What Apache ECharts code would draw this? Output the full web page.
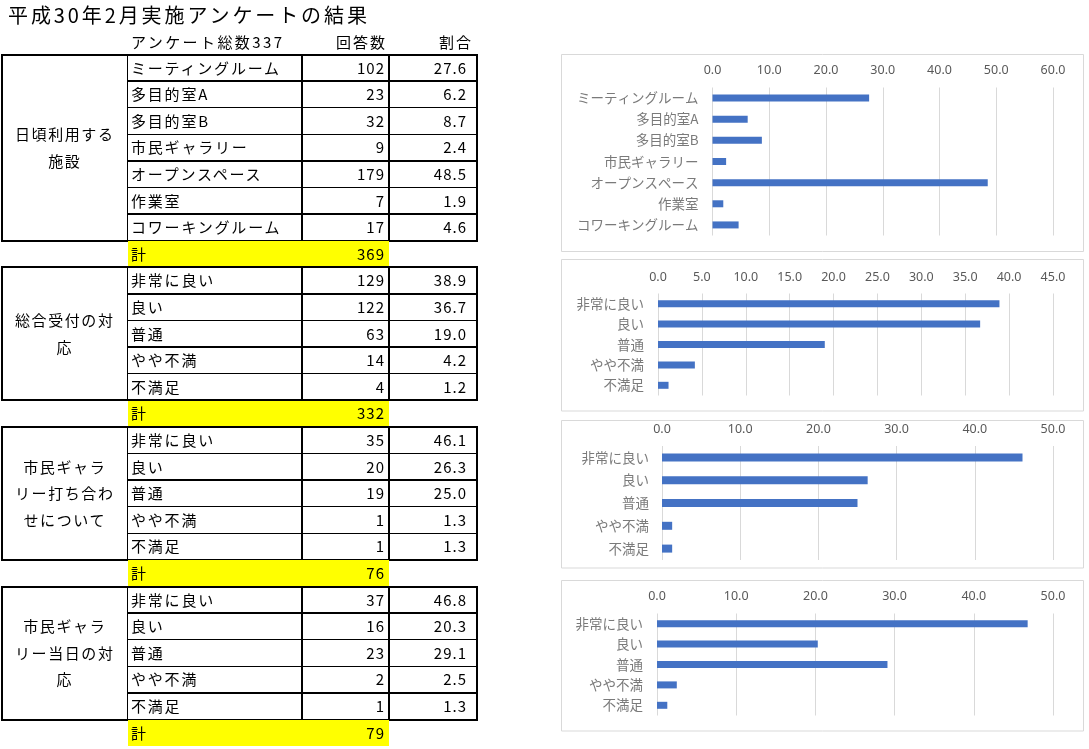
<!DOCTYPE html>
<html>
<head>
<meta charset="utf-8">
<script src="https://cdn.jsdelivr.net/npm/echarts@6/dist/echarts.min.js"></script>
<style>
  html, body { margin:0; padding:0; background:#fff; }
  #wrap { position:relative; width:1089px; height:749px; overflow:hidden; }
  #chart { position:absolute; left:0; top:0; width:1089px; height:749px; }
  #table { position:absolute; left:0; top:0; width:560px; height:749px; z-index:2; pointer-events:none;
           font-family:"Noto Sans CJK JP","Noto Sans",sans-serif; color:#000; }
  .t { position:absolute; white-space:pre; font-size:15px; letter-spacing:2px; }
  .n { position:absolute; white-space:pre; font-size:15px; letter-spacing:1px; text-align:right; font-family:"Noto Sans CJK JP","Noto Sans",sans-serif; }
  .ln { position:absolute; background:#000; }
</style>
</head>
<body>
<div id="wrap">
  <div id="chart"></div>
  <div id="table"></div>
</div>
<script>
// ---------- data ----------
const titleText = '平成30年2月実施アンケートの結果';
const headerLabels = ['アンケート総数337', '回答数', '割合'];
const totalLabel = '計';
const groupNames = ['日頃利用する\n施設', '総合受付の対\n応', '市民ギャラ\nリー打ち合わ\nせについて', '市民ギャラ\nリー当日の対\n応'];
const facilityCats = ['ミーティングルーム', '多目的室A', '多目的室B', '市民ギャラリー', 'オープンスペース', '作業室', 'コワーキングルーム'];
const ratingCats = ['非常に良い', '良い', '普通', 'やや不満', '不満足'];
const counts1 = [102, 23, 32, 9, 179, 7, 17];
const pct1 = [27.6, 6.2, 8.7, 2.4, 48.5, 1.9, 4.6];
const total1 = 369;
const counts2 = [129, 122, 63, 14, 4];
const pct2 = [38.9, 36.7, 19.0, 4.2, 1.2];
const total2 = 332;
const counts3 = [35, 20, 19, 1, 1];
const pct3 = [46.1, 26.3, 25.0, 1.3, 1.3];
const total3 = 76;
const counts4 = [37, 16, 23, 2, 1];
const pct4 = [46.8, 20.3, 29.1, 2.5, 1.3];
const total4 = 79;
const axisMax = [60, 45, 50, 50];
const axisStep = [10, 5, 10, 10];

const groups = [
  { name: groupNames[0], cats: facilityCats, counts: counts1, pct: pct1, total: total1 },
  { name: groupNames[1], cats: ratingCats, counts: counts2, pct: pct2, total: total2 },
  { name: groupNames[2], cats: ratingCats, counts: counts3, pct: pct3, total: total3 },
  { name: groupNames[3], cats: ratingCats, counts: counts4, pct: pct4, total: total4 }
];

// ---------- table (HTML) ----------
const T = document.getElementById('table');
function el(cls, css, text) {
  const d = document.createElement('div');
  d.className = cls;
  Object.assign(d.style, css);
  if (text !== undefined) d.textContent = text;
  T.appendChild(d);
  return d;
}
const colX = [2, 127.5, 302, 389, 477];
const rowH = 26.6;
const y0 = 54.5;

// title
el('t', { left: '8px', top: '1px', fontSize: '20px', letterSpacing: '2.9px', lineHeight: '28px' }, titleText);
// header
el('t', { left: '131px', top: '28px', lineHeight: '27px', letterSpacing: '2.4px' }, headerLabels[0]);
el('t', { left: (colX[2]) + 'px', width: (colX[3] - colX[2] - 2) + 'px', textAlign: 'right', top: '28px', lineHeight: '27px' }, headerLabels[1]);
el('t', { left: (colX[3]) + 'px', width: (colX[4] - colX[3] - 4) + 'px', textAlign: 'right', top: '28px', lineHeight: '27px' }, headerLabels[2]);

let yy = y0;
groups.forEach((g) => {
  const n = g.cats.length;
  const top = yy, bottom = yy + n * rowH;
  for (let i = 1; i < n; i++) {
    el('ln', { left: colX[1] + 'px', top: (top + i * rowH - 0.75) + 'px', width: (colX[4] - colX[1]) + 'px', height: '1.5px' });
  }
  [colX[1], colX[2], colX[3]].forEach(x => {
    el('ln', { left: (x - 0.75) + 'px', top: top + 'px', width: '1.5px', height: (bottom - top) + 'px' });
  });
  el('ln', { left: colX[0] + 'px', top: (top - 1) + 'px', width: (colX[4] - colX[0]) + 'px', height: '2px' });
  el('ln', { left: colX[0] + 'px', top: (bottom - 1) + 'px', width: (colX[4] - colX[0]) + 'px', height: '2px' });
  el('ln', { left: (colX[0] - 1) + 'px', top: (top - 1) + 'px', width: '2px', height: (bottom - top + 2) + 'px' });
  el('ln', { left: (colX[4] - 1) + 'px', top: (top - 1) + 'px', width: '2px', height: (bottom - top + 2) + 'px' });
  const gl = el('t', { left: colX[0] + 'px', top: top + 'px', width: (colX[1] - colX[0]) + 'px', height: (bottom - top) + 'px',
    display: 'flex', alignItems: 'center', justifyContent: 'center', textAlign: 'center', lineHeight: rowH + 'px', letterSpacing: '1.6px' });
  gl.textContent = g.name;
  g.cats.forEach((c, i) => {
    const ry = top + i * rowH;
    el('t', { left: '131px', top: ry + 'px', lineHeight: rowH + 'px', letterSpacing: '1.8px' }, c);
    el('n', { left: colX[2] + 'px', width: (colX[3] - colX[2] - 4) + 'px', top: ry + 'px', lineHeight: rowH + 'px' }, String(g.counts[i]));
    el('n', { left: colX[3] + 'px', width: (colX[4] - colX[3] - 10) + 'px', top: ry + 'px', lineHeight: rowH + 'px' }, g.pct[i].toFixed(1));
  });
  el('ln', { left: colX[1] + 'px', top: (bottom + 0.5) + 'px', width: (colX[3] - colX[1]) + 'px', height: (rowH - 0.5) + 'px', background: '#ffff00' });
  el('t', { left: '131px', top: bottom + 'px', lineHeight: rowH + 'px' }, totalLabel);
  el('n', { left: colX[2] + 'px', width: (colX[3] - colX[2] - 4) + 'px', top: bottom + 'px', lineHeight: rowH + 'px' }, String(g.total));
  yy = bottom + rowH;
});

// ---------- charts (ECharts) ----------
const chart = echarts.init(document.getElementById('chart'), null, { renderer: 'canvas' });
const gridDefs = [
  { left: 712.5, right: 36, top: 87.5, height: 148 },
  { left: 658, right: 36, top: 293.5, height: 102 },
  { left: 662, right: 36, top: 446, height: 114 },
  { left: 657, right: 36, top: 613.5, height: 102 }
];
const labelMargins = [11, 10, 10, 11];
const catMargins = [14, 14, 13, 14];
const barWidths = [7, 7, 8, 7];
const boxes = [
  { x: 561.5, y: 54.5, width: 522, height: 197 },
  { x: 561.5, y: 259.5, width: 522, height: 151.5 },
  { x: 561.5, y: 420.5, width: 522, height: 147.5 },
  { x: 561.5, y: 580.5, width: 522, height: 150.5 }
];

const option = {
  backgroundColor: '#ffffff',
  animation: false,
  graphic: boxes.map(b => ({ type: 'rect', shape: b, style: { fill: null, stroke: '#d9d9d9', lineWidth: 1 }, z: -1 })),
  grid: gridDefs.map(g => Object.assign({ containLabel: false }, g)),
  xAxis: groups.map((g, i) => ({
    type: 'value', gridIndex: i, position: 'top', min: 0, max: axisMax[i], interval: axisStep[i],
    axisLine: { show: false }, axisTick: { show: false },
    axisLabel: { margin: labelMargins[i], color: '#595959', fontSize: 12.5, fontFamily: 'Noto Sans', formatter: v => v.toFixed(1) },
    splitLine: { show: true, lineStyle: { color: '#d9d9d9', width: 1 } }
  })),
  yAxis: groups.map((g, i) => ({
    type: 'category', gridIndex: i, inverse: true, data: g.cats,
    axisLine: { show: false }, axisTick: { show: false },
    axisLabel: { margin: catMargins[i], color: '#7a7a7a', fontSize: 13.5, fontFamily: 'Noto Sans CJK JP' },
    splitLine: { show: false }
  })),
  series: groups.map((g, i) => ({
    type: 'bar', xAxisIndex: i, yAxisIndex: i, data: g.pct, barWidth: barWidths[i],
    itemStyle: { color: '#4472c4' }, silent: true
  }))
};
chart.setOption(option);
</script>
</body>
</html>
